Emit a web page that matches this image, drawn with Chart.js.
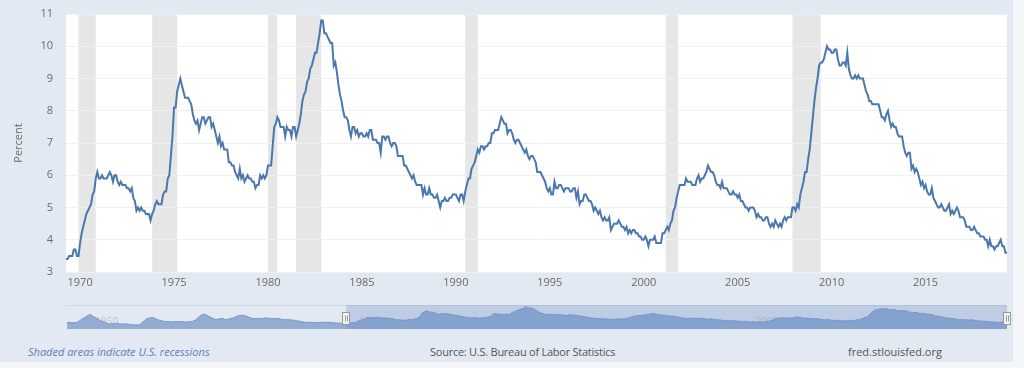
<!DOCTYPE html>
<html>
<head>
<meta charset="utf-8">
<script src="https://cdn.jsdelivr.net/npm/chart.js@4.4.1/dist/chart.umd.min.js"></script>
<style>
  html, body { margin: 0; padding: 0; background: #f4f6f9; }
  #panel { position: absolute; left: 0; top: 0; width: 1013px; height: 362px; background: #e2e9f2; overflow: hidden; }
  #main { position: absolute; left: 0; top: 0; }
  #nav { position: absolute; left: 0; top: 300px; }
  .foot { position: absolute; top: 344px; font: 11px "Open Sans", sans-serif; line-height: 16px; color: #555; white-space: nowrap; }
  #note { left: 28px; font-style: italic; color: #5d80b3; }
  #src { left: 430px; letter-spacing: -0.25px; }
  #site { left: 848px; }
</style>
</head>
<body>
<div id="panel">
  <canvas id="main" width="1014" height="300"></canvas>
  <canvas id="nav" width="1014" height="38"></canvas>
  <span class="foot" id="note">Shaded areas indicate U.S. recessions</span>
  <span class="foot" id="src">Source: U.S. Bureau of Labor Statistics</span>
  <span class="foot" id="site">fred.stlouisfed.org</span>
</div>
<script>
// Civilian unemployment rate, monthly, percent
const START = [1969, 4]; // first month shown
const RATE_1969 = [3.4, 3.4, 3.5, 3.5, 3.5, 3.7, 3.7, 3.5, 3.5];
const RATE_1970S = [
  3.9, 4.2, 4.4, 4.6, 4.8, 4.9, 5.0, 5.1, 5.4, 5.5, 5.9, 6.1,
  5.9, 5.9, 6.0, 5.9, 5.9, 5.9, 6.0, 6.1, 6.0, 5.8, 6.0, 6.0,
  5.8, 5.7, 5.8, 5.7, 5.7, 5.7, 5.6, 5.6, 5.5, 5.6, 5.3, 5.2,
  4.9, 5.0, 4.9, 5.0, 4.9, 4.9, 4.8, 4.8, 4.8, 4.6, 4.8, 4.9,
  5.1, 5.2, 5.1, 5.1, 5.1, 5.4, 5.5, 5.5, 5.9, 6.0, 6.6, 7.2,
  8.1, 8.1, 8.6, 8.8, 9.0, 8.8, 8.6, 8.4, 8.4, 8.4, 8.3, 8.2,
  7.9, 7.7, 7.6, 7.7, 7.4, 7.6, 7.8, 7.8, 7.6, 7.7, 7.8, 7.8,
  7.5, 7.6, 7.4, 7.2, 7.0, 7.2, 6.9, 7.0, 6.8, 6.8, 6.8, 6.4,
  6.4, 6.3, 6.3, 6.1, 6.0, 5.9, 6.2, 5.9, 6.0, 5.8, 5.9, 6.0,
  5.9, 5.9, 5.8, 5.8, 5.6, 5.7, 5.7, 6.0, 5.9, 6.0, 5.9, 6.0
];
const RATE_1980S = [
  6.3, 6.3, 6.3, 6.9, 7.5, 7.6, 7.8, 7.7, 7.5, 7.5, 7.5, 7.2,
  7.5, 7.4, 7.4, 7.2, 7.5, 7.5, 7.2, 7.4, 7.6, 7.9, 8.3, 8.5,
  8.6, 8.9, 9.0, 9.3, 9.4, 9.6, 9.8, 9.8, 10.1, 10.4, 10.8, 10.8,
  10.4, 10.4, 10.3, 10.2, 10.1, 10.1, 9.4, 9.5, 9.2, 8.8, 8.5, 8.3,
  8.0, 7.8, 7.8, 7.7, 7.4, 7.2, 7.5, 7.5, 7.3, 7.4, 7.2, 7.3,
  7.3, 7.2, 7.2, 7.3, 7.2, 7.4, 7.4, 7.1, 7.1, 7.1, 7.0, 7.0,
  6.7, 7.2, 7.2, 7.1, 7.2, 7.2, 7.0, 6.9, 7.0, 7.0, 6.9, 6.6,
  6.6, 6.6, 6.6, 6.3, 6.3, 6.2, 6.1, 6.0, 5.9, 6.0, 5.8, 5.7,
  5.7, 5.7, 5.7, 5.4, 5.6, 5.4, 5.4, 5.6, 5.4, 5.4, 5.3, 5.3,
  5.4, 5.2, 5.0, 5.2, 5.2, 5.3, 5.2, 5.2, 5.3, 5.3, 5.4, 5.4
];
const RATE_1990S = [
  5.4, 5.3, 5.2, 5.4, 5.4, 5.2, 5.5, 5.7, 5.9, 5.9, 6.2, 6.3,
  6.4, 6.6, 6.8, 6.7, 6.9, 6.9, 6.8, 6.9, 6.9, 7.0, 7.0, 7.3,
  7.3, 7.4, 7.4, 7.4, 7.6, 7.8, 7.7, 7.6, 7.6, 7.3, 7.4, 7.4,
  7.3, 7.1, 7.0, 7.1, 7.1, 7.0, 6.9, 6.8, 6.7, 6.8, 6.6, 6.5,
  6.6, 6.6, 6.5, 6.4, 6.1, 6.1, 6.1, 6.0, 5.9, 5.8, 5.6, 5.5,
  5.6, 5.4, 5.4, 5.8, 5.6, 5.6, 5.7, 5.7, 5.6, 5.5, 5.6, 5.6,
  5.6, 5.5, 5.5, 5.6, 5.6, 5.3, 5.5, 5.1, 5.2, 5.2, 5.4, 5.4,
  5.3, 5.2, 5.2, 5.1, 4.9, 5.0, 4.9, 4.8, 4.9, 4.7, 4.6, 4.7,
  4.6, 4.6, 4.7, 4.3, 4.4, 4.5, 4.5, 4.5, 4.6, 4.5, 4.4, 4.4,
  4.3, 4.4, 4.2, 4.3, 4.2, 4.3, 4.3, 4.2, 4.2, 4.1, 4.1, 4.0
];
const RATE_2000S = [
  4.0, 4.1, 4.0, 3.8, 4.0, 4.0, 4.0, 4.1, 3.9, 3.9, 3.9, 3.9,
  4.2, 4.2, 4.3, 4.4, 4.3, 4.5, 4.6, 4.9, 5.0, 5.3, 5.5, 5.7,
  5.7, 5.7, 5.7, 5.9, 5.8, 5.8, 5.8, 5.7, 5.7, 5.7, 5.9, 6.0,
  5.8, 5.9, 5.9, 6.0, 6.1, 6.3, 6.2, 6.1, 6.1, 6.0, 5.8, 5.7,
  5.7, 5.6, 5.8, 5.6, 5.6, 5.6, 5.5, 5.4, 5.4, 5.5, 5.4, 5.4,
  5.3, 5.4, 5.2, 5.2, 5.1, 5.0, 5.0, 4.9, 5.0, 5.0, 5.0, 4.9,
  4.7, 4.8, 4.7, 4.7, 4.6, 4.6, 4.7, 4.7, 4.5, 4.4, 4.5, 4.4,
  4.6, 4.5, 4.4, 4.5, 4.4, 4.6, 4.7, 4.6, 4.7, 4.7, 4.7, 5.0,
  5.0, 4.9, 5.1, 5.0, 5.4, 5.6, 5.8, 6.1, 6.1, 6.5, 6.8, 7.3,
  7.8, 8.3, 8.7, 9.0, 9.4, 9.5, 9.5, 9.6, 9.8, 10.0, 9.9, 9.9
];
const RATE_2010S = [
  9.8, 9.8, 9.9, 9.9, 9.6, 9.4, 9.4, 9.5, 9.5, 9.4, 9.8, 9.3,
  9.1, 9.0, 9.0, 9.1, 9.0, 9.1, 9.0, 9.0, 9.0, 8.8, 8.6, 8.5,
  8.3, 8.3, 8.2, 8.2, 8.2, 8.2, 8.2, 8.0, 7.8, 7.8, 7.7, 7.9,
  8.0, 7.7, 7.5, 7.6, 7.5, 7.5, 7.3, 7.2, 7.2, 7.2, 6.9, 6.7,
  6.6, 6.7, 6.7, 6.2, 6.3, 6.1, 6.2, 6.1, 5.9, 5.7, 5.8, 5.6,
  5.7, 5.5, 5.4, 5.4, 5.6, 5.3, 5.2, 5.1, 5.0, 5.0, 5.1, 5.0,
  4.9, 4.9, 5.0, 5.1, 4.8, 4.9, 4.8, 4.9, 5.0, 4.9, 4.7, 4.7,
  4.7, 4.6, 4.4, 4.4, 4.4, 4.3, 4.3, 4.4, 4.3, 4.2, 4.2, 4.1,
  4.1, 4.1, 4.0, 4.0, 3.8, 4.0, 3.8, 3.8, 3.7, 3.8, 3.8, 3.9,
  4.0, 3.8, 3.8, 3.6, 3.6
];
// earlier history, quarterly, only used by the navigator strip
const NAV_START = 1948;
const RATE_EARLY_Q = [
  3.7, 3.7, 3.6, 3.8,  4.7, 5.7, 6.6, 7.4,  6.4, 5.6, 4.6, 4.2,
  3.5, 3.1, 3.2, 3.4,  3.1, 3.0, 3.2, 2.8,  2.7, 2.6, 2.7, 4.0,
  5.3, 5.8, 6.0, 5.3,  4.7, 4.4, 4.1, 4.2,  4.0, 4.2, 4.1, 4.1,
  3.9, 4.1, 4.2, 4.9,  6.3, 7.4, 7.3, 6.4,  5.8, 5.1, 5.3, 5.6,
  5.1, 5.2, 5.5, 6.3,  6.8, 7.0, 6.8, 6.2,  5.6, 5.5, 5.6, 5.5,
  5.8, 5.7, 5.5, 5.6,  5.5, 5.2, 5.0, 5.0,  4.9, 4.7, 4.4, 4.2,
  3.9, 3.8, 3.8, 3.7,  3.8, 3.8, 3.8, 3.9,  3.7, 3.6, 3.5, 3.4,
  3.4
];

const RECESSIONS = [
  ['1969-12', '1970-11'], ['1973-11', '1975-03'], ['1980-01', '1980-07'],
  ['1981-07', '1982-11'], ['1990-07', '1991-03'], ['2001-03', '2001-11'],
  ['2007-12', '2009-06']
];
const X_TICKS = [1970, 1975, 1980, 1985, 1990, 1995, 2000, 2005, 2010, 2015];
const Y_MIN = 3, Y_MAX = 11;
const NAV_LABELS = [1950, 1960, 1970, 1980, 1990, 2000, 2010];

const TEXT = '#6a6a6a';
const FONT = { family: '"Open Sans", sans-serif', size: 11 };

function ym(s) {
  const [y, m] = s.split('-').map(Number);
  return y + (m - 1) / 12;
}

const monthly = [].concat(RATE_1969, RATE_1970S, RATE_1980S, RATE_1990S, RATE_2000S, RATE_2010S);
const points = monthly.map((v, i) => ({ x: START[0] + (START[1] - 1 + i) / 12, y: v }));
const X_MIN = points[0].x;
const X_MAX = points[points.length - 1].x;

// white plot area + recession bars
const plotBg = {
  id: 'plotBg',
  beforeDraw(chart) {
    const { ctx, chartArea: a, scales } = chart;
    ctx.save();
    ctx.fillStyle = '#ffffff';
    ctx.fillRect(a.left, a.top, a.right - a.left, a.bottom - a.top);
    ctx.fillStyle = '#e6e6e6';
    RECESSIONS.forEach(r => {
      const x0 = scales.x.getPixelForValue(ym(r[0]));
      const x1 = scales.x.getPixelForValue(ym(r[1]));
      ctx.fillRect(x0, a.top, x1 - x0, a.bottom - a.top);
    });
    ctx.restore();
  }
};

new Chart(document.getElementById('main'), {
  type: 'line',
  data: {
    datasets: [{
      data: points,
      borderColor: '#4a78ae',
      borderWidth: 2,
      pointRadius: 0,
      tension: 0,
      fill: false
    }]
  },
  options: {
    responsive: false,
    animation: false,
    layout: { padding: { top: 14, right: 7, bottom: 0, left: 0 } },
    plugins: { legend: { display: false }, tooltip: { enabled: false } },
    scales: {
      x: {
        type: 'linear',
        min: X_MIN,
        max: X_MAX,
        grid: { display: false, drawTicks: false },
        border: { display: false },
        ticks: { color: TEXT, font: FONT, padding: 4, maxRotation: 0, callback: v => String(v) },
        afterBuildTicks: s => { s.ticks = X_TICKS.map(v => ({ value: v })); },
        afterFit: s => { s.height = 28; }
      },
      y: {
        min: Y_MIN,
        max: Y_MAX,
        grid: { color: '#eef0f3', drawTicks: false },
        border: { display: false },
        ticks: { stepSize: 1, color: TEXT, font: FONT, padding: 13 },
        title: { display: true, text: 'Percent', color: TEXT, font: FONT, padding: { top: 12, bottom: 0 } },
        afterFit: s => { s.width = 66; s.paddingTop = 7; s.paddingBottom = 7; }
      }
    }
  },
  plugins: [plotBg]
});

// navigator strip
const navPoints = RATE_EARLY_Q.map((v, i) => ({ x: NAV_START + (i * 3 + 1) / 12, y: v })).concat(points);

const navDecor = {
  id: 'navDecor',
  beforeDatasetsDraw(chart) {
    const { ctx, chartArea: a, scales } = chart;
    ctx.save();
    ctx.fillStyle = 'rgba(120,120,120,0.35)';
    ctx.font = '10px "Open Sans", sans-serif';
    ctx.textBaseline = 'middle';
    NAV_LABELS.forEach(y => ctx.fillText(String(y), scales.x.getPixelForValue(y) + 3, a.bottom - 7));
    ctx.strokeStyle = '#cfd8e4';
    ctx.lineWidth = 1;
    ctx.beginPath();
    ctx.moveTo(a.left, a.top + 0.5);
    ctx.lineTo(a.right, a.top + 0.5);
    ctx.stroke();
    ctx.restore();
  },
  afterDatasetsDraw(chart) {
    const { ctx, chartArea: a, scales } = chart;
    const xs = scales.x.getPixelForValue(X_MIN);
    const xe = scales.x.getPixelForValue(X_MAX);
    ctx.save();
    ctx.fillStyle = 'rgba(102,133,194,0.28)';
    ctx.fillRect(xs, a.top, xe - xs, a.bottom - a.top);
    [xs, xe].forEach(x => {
      ctx.fillStyle = '#f2f2f2';
      ctx.strokeStyle = '#999999';
      ctx.lineWidth = 1;
      ctx.fillRect(Math.round(x) - 3.5, a.top + 7.5, 7, 12);
      ctx.strokeRect(Math.round(x) - 3.5, a.top + 7.5, 7, 12);
      ctx.beginPath();
      ctx.moveTo(Math.round(x) - 0.5, a.top + 10.5);
      ctx.lineTo(Math.round(x) - 0.5, a.top + 16.5);
      ctx.moveTo(Math.round(x) + 1.5, a.top + 10.5);
      ctx.lineTo(Math.round(x) + 1.5, a.top + 16.5);
      ctx.stroke();
    });
    ctx.restore();
  }
};

new Chart(document.getElementById('nav'), {
  type: 'line',
  data: {
    datasets: [{
      data: navPoints,
      borderColor: '#7a9acb',
      borderWidth: 1,
      backgroundColor: '#92acd2',
      pointRadius: 0,
      tension: 0,
      fill: 'start'
    }]
  },
  options: {
    responsive: false,
    animation: false,
    layout: { padding: { top: 5, right: 7, bottom: 9, left: 66 } },
    plugins: { legend: { display: false }, tooltip: { enabled: false } },
    scales: {
      x: { type: 'linear', display: false, min: NAV_START, max: X_MAX },
      y: { display: false, min: 0.8, max: 11.6 }
    }
  },
  plugins: [navDecor]
});
</script>
</body>
</html>
